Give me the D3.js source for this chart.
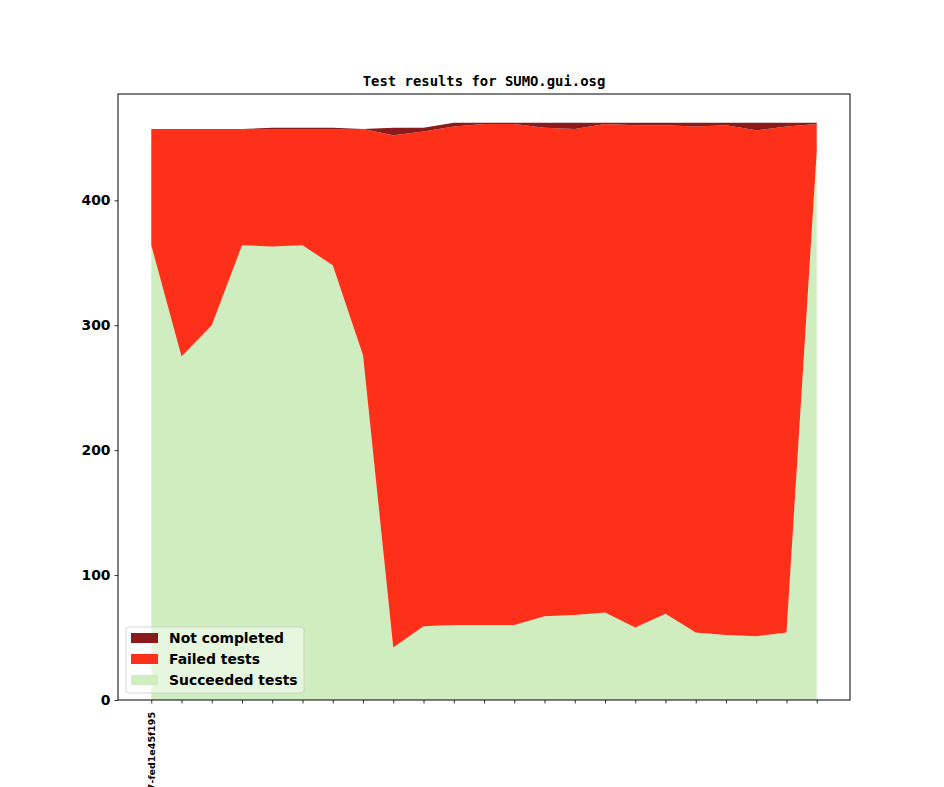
<!DOCTYPE html>
<html>
<head>
<meta charset="utf-8">
<script src="https://cdn.jsdelivr.net/npm/d3@7"></script>
<style>
  body { margin: 0; background: #fff; }
  svg { display: block; }
</style>
</head>
<body>
<div id="chart"></div>
<script>
// Valores (uma entrada por build)
const builds = d3.range(23).map(i => "b" + i);
const xTickLabels = ["v1_19_0+0557-fed1e45f195"]; // só o primeiro tick tem rótulo
const succeeded = [364, 275, 300, 364, 363, 364, 348, 276, 42, 59, 60, 60, 60, 67, 68, 70, 58, 69, 54, 52, 51, 54, 439];
const failed    = [93, 182, 157, 93, 94, 93, 109, 181, 410, 396, 399, 401, 401, 391, 389, 391, 402, 391, 405, 408, 405, 405, 22];
const notCompleted = [0, 0, 0, 0, 1, 1, 1, 0, 6, 3, 3, 1, 1, 4, 5, 1, 2, 2, 3, 2, 6, 3, 1];

const seriesNames = ["Succeeded tests", "Failed tests", "Not completed"];
const seriesColors = ["#cfedbf", "#ff3019", "#8b1a1a"];

const W = 944, H = 787;
const margin = { top: 94, right: 94, bottom: 87, left: 118 };
const iw = W - margin.left - margin.right;
const ih = H - margin.top - margin.bottom;

const svg = d3.select("#chart").append("svg")
    .attr("width", W)
    .attr("height", H);

// Tabela empilhada
const rows = builds.map((b, i) => ({
    build: b,
    i: i,
    "Succeeded tests": succeeded[i],
    "Failed tests": failed[i],
    "Not completed": notCompleted[i]
}));
const stacked = d3.stack().keys(seriesNames)(rows);
const yMax = d3.max(stacked[stacked.length - 1], d => d[1]);

// Margens automáticas estilo matplotlib (5%)
const n = builds.length - 1;
const x = d3.scaleLinear().domain([-0.05 * n, n * 1.05]).range([0, iw]);
const y = d3.scaleLinear().domain([0, yMax * 1.05]).range([ih, 0]);

const g = svg.append("g").attr("transform", `translate(${margin.left},${margin.top})`);

const area = d3.area()
    .x(d => x(d.data.i))
    .y0(d => y(d[0]))
    .y1(d => y(d[1]));

g.selectAll("path.layer")
    .data(stacked)
    .join("path")
    .attr("class", "layer")
    .attr("d", area)
    .attr("fill", (d, i) => seriesColors[i]);

// Eixo Y
const yAxis = g.append("g")
    .call(d3.axisLeft(y).tickValues([0, 100, 200, 300, 400]).tickSize(3.5).tickPadding(4).tickFormat(d3.format("d")));
yAxis.select(".domain").remove();
yAxis.selectAll("line").attr("stroke", "#000").attr("stroke-width", 0.8);
yAxis.selectAll("text")
    .attr("fill", "#000")
    .style("font-family", "DejaVu Sans")
    .style("font-weight", "bold")
    .style("font-size", "13.9px");

// Eixo X (um tick por build)
const xAxis = g.append("g")
    .attr("transform", `translate(0,${ih})`)
    .call(d3.axisBottom(x).tickValues(d3.range(builds.length)).tickSize(3.5).tickFormat(d => xTickLabels[d] || ""));
xAxis.select(".domain").remove();
xAxis.selectAll("line").attr("stroke", "#000").attr("stroke-width", 0.8);
xAxis.selectAll("text")
    .attr("fill", "#000")
    .attr("transform", "rotate(-90)")
    .attr("text-anchor", "end")
    .attr("x", -12)
    .attr("y", 0)
    .attr("dy", "0.35em")
    .style("font-family", "DejaVu Sans")
    .style("font-weight", "bold")
    .style("font-size", "9.5px");

// Moldura dos eixos
g.append("rect")
    .attr("width", iw)
    .attr("height", ih)
    .attr("fill", "none")
    .attr("stroke", "#000")
    .attr("stroke-width", 1);

// Título
svg.append("text")
    .attr("x", margin.left + iw / 2)
    .attr("y", margin.top - 8)
    .attr("text-anchor", "middle")
    .style("font-family", "DejaVu Sans Mono")
    .style("font-weight", "bold")
    .style("font-size", "13.9px")
    .text("Test results for SUMO.gui.osg");

// Legenda (ordem invertida)
const legendItems = seriesNames.map((s, i) => ({ name: s, color: seriesColors[i] })).reverse();
const lg = svg.append("g").attr("transform", "translate(126,627)");
lg.append("rect")
    .attr("width", 178)
    .attr("height", 66)
    .attr("rx", 3)
    .attr("fill", "rgba(255,255,255,0.5)")
    .attr("stroke", "#ccc")
    .attr("stroke-width", 0.8);
legendItems.forEach((it, i) => {
    const row = lg.append("g").attr("transform", `translate(5,${6 + i * 21})`);
    row.append("rect").attr("width", 27).attr("height", 10).attr("fill", it.color);
    row.append("text")
        .attr("x", 38)
        .attr("y", 5)
        .attr("dy", "0.35em")
        .style("font-family", "DejaVu Sans")
        .style("font-weight", "bold")
        .style("font-size", "13.9px")
        .text(it.name);
});
</script>
</body>
</html>
